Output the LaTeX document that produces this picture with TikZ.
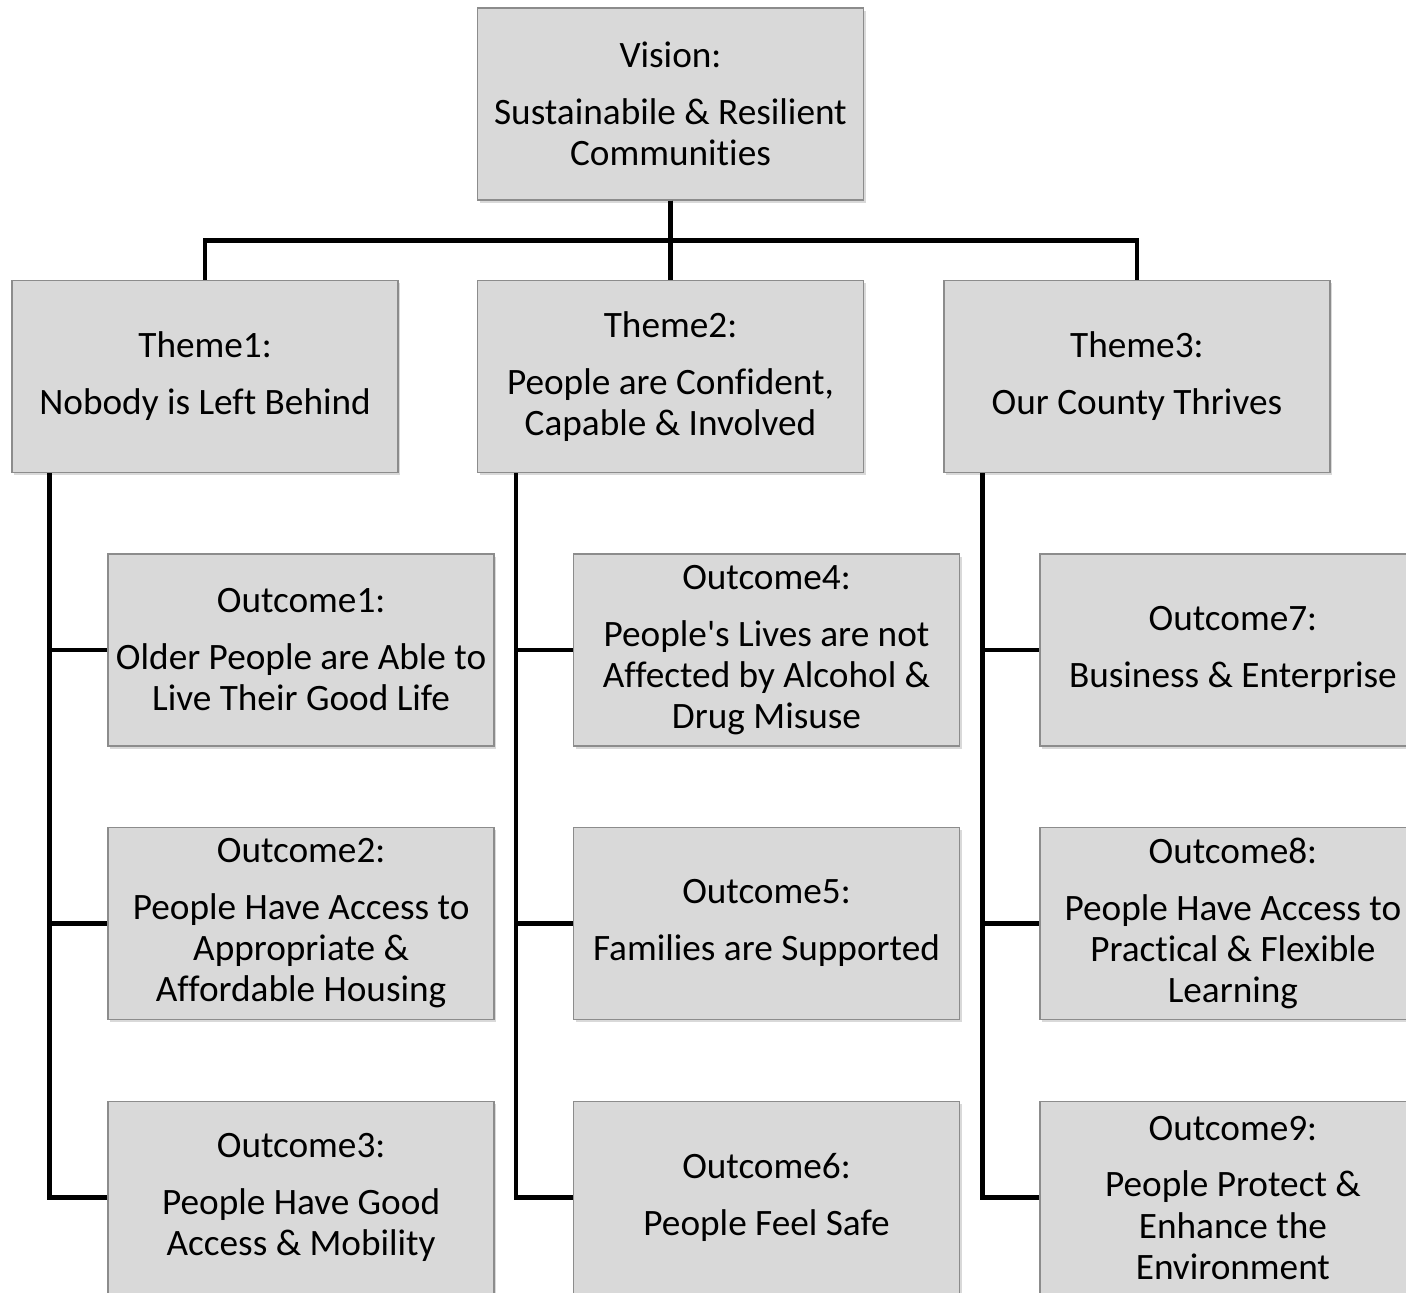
\documentclass[tikz,border=0pt]{standalone}
\usepackage{fontspec}
\setmainfont{Carlito}[Ligatures={NoCommon,TeXOff}]
\usepackage{xcolor}
\definecolor{cbox}{rgb}{0.85,0.85,0.85}
\definecolor{cframe}{rgb}{0.55,0.55,0.55}
\usepackage{tikz}
\usetikzlibrary{positioning, shadows}
\tikzset{
node distance=0.8cm,
Block/.style={
	draw=cframe, fill=cbox,
	line width=0.4pt,
	minimum width=3.86cm,
	minimum height=1.92cm,
	inner sep=1pt,
	align=center,
	font=\fontsize{10.6}{11.7}\selectfont,
	drop shadow={shadow xshift=0.6pt, shadow yshift=-0.8pt, opacity=0.3}
},
Link/.style={
	draw=black,
	line width=1.3pt
}
}

\begin{document}
\begin{tikzpicture}
	\useasboundingbox (0,0) rectangle (14.06,-12.92);
	\clip (0,0) rectangle (14.06,-12.92);

	\node[Block] (V) at (6.705,-1.04) {Vision:\\[4.5pt] Sustainabile \& Resilient\\Communities};

	\node[Block, below=0.79cm of V] (T2) {Theme2:\\[4.5pt] People are Confident,\\Capable \& Involved};
	\node[Block, left=0.78cm of T2] (T1) {Theme1:\\[4.5pt] Nobody is Left Behind};
	\node[Block, right=0.79cm of T2] (T3) {Theme3:\\[4.5pt] Our County Thrives};

	\node[Block, below=of T1, xshift=0.96cm] (O1) {Outcome1:\\[4.5pt] Older People are Able to\\Live Their Good Life};
	\node[Block, below=of O1] (O2) {Outcome2:\\[4.5pt] People Have Access to\\Appropriate \&\\Affordable Housing};
	\node[Block, below=0.81cm of O2] (O3) {Outcome3:\\[4.5pt] People Have Good\\Access \& Mobility};

	\node[Block, below=of T2, xshift=0.96cm] (O4) {Outcome4:\\[4.5pt] People's Lives are not\\Affected by Alcohol \&\\Drug Misuse};
	\node[Block, below=of O4] (O5) {Outcome5:\\[4.5pt] Families are Supported};
	\node[Block, below=0.81cm of O5] (O6) {Outcome6:\\[4.5pt] People Feel Safe};

	\node[Block, below=of T3, xshift=0.96cm] (O7) {Outcome7:\\[4.5pt] Business \& Enterprise};
	\node[Block, below=of O7] (O8) {Outcome8:\\[4.5pt] People Have Access to\\Practical \& Flexible\\Learning};
	\node[Block, below=0.81cm of O8] (O9) {Outcome9:\\[4.5pt] People Protect \&\\Enhance the\\Environment};

	% vision to themes
	\draw[Link] (V.south) -- ++(0,-0.4) -| (T1.north);
	\draw[Link] (V.south) -- (T2.north);
	\draw[Link] (V.south) -- ++(0,-0.4) -| (T3.north);

	% themes to outcomes
	\coordinate[xshift=0.38cm] (S1) at (T1.south west);
	\coordinate[xshift=0.39cm] (S2) at (T2.south west);
	\coordinate[xshift=0.39cm] (S3) at (T3.south west);

	\draw[Link] (S1) |- (O3.west);
	\draw[Link] (S1 |- O1.west) -- (O1.west);
	\draw[Link] (S1 |- O2.west) -- (O2.west);

	\draw[Link] (S2) |- (O6.west);
	\draw[Link] (S2 |- O4.west) -- (O4.west);
	\draw[Link] (S2 |- O5.west) -- (O5.west);

	\draw[Link] (S3) |- (O9.west);
	\draw[Link] (S3 |- O7.west) -- (O7.west);
	\draw[Link] (S3 |- O8.west) -- (O8.west);
\end{tikzpicture}
\end{document}
